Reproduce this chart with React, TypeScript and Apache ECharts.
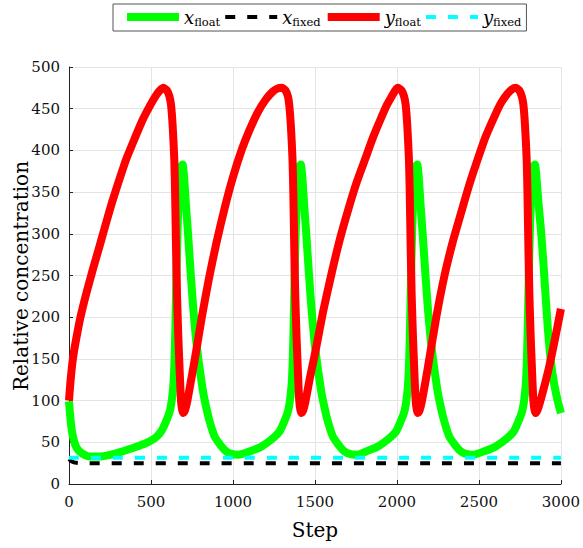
import React, { useEffect, useRef } from "react";
import * as echarts from "echarts";

const seriesNames = ["x_float", "x_fixed", "y_float", "y_fixed"];
const legendLabels: Record<string, string> = {
  x_float: "{v|x}{s|float}",
  x_fixed: "{v|x}{s|fixed}",
  y_float: "{v|y}{s|float}",
  y_fixed: "{v|y}{s|fixed}",
};

const xTicks = [0, 500, 1000, 1500, 2000, 2500, 3000];
const yTicks = [0, 50, 100, 150, 200, 250, 300, 350, 400, 450, 500];

// x_float: [step, relative concentration]
const xFloat: number[][] = [
  [0, 99], [8, 80], [18, 63], [30, 52], [45, 44], [65, 39], [95, 35], [126, 33], [186, 33], [250, 35],
  [308, 38], [370, 42], [429, 46], [480, 50], [531, 56], [565, 64], [596, 77], [618, 90], [635, 115],
  [643, 145], [649, 190], [655, 250], [662, 305], [669, 345], [678, 372], [687, 382], [693, 383],
  [703, 365], [713, 335], [726, 300], [743, 250], [758, 210], [774, 175], [790, 148], [814, 115],
  [828, 100], [855, 77], [888, 57], [915, 49], [948, 41], [978, 37], [1033, 35], [1114, 40], [1174, 45],
  [1238, 54], [1284, 63], [1317, 77], [1339, 90], [1356, 115], [1364, 145], [1370, 190], [1376, 250],
  [1383, 305], [1390, 345], [1399, 372], [1408, 382], [1414, 383],
  [1424, 365], [1434, 335], [1447, 300], [1464, 250], [1479, 210], [1495, 175], [1511, 148], [1535, 115],
  [1549, 100], [1576, 77], [1609, 57], [1636, 49], [1669, 41], [1699, 37], [1754, 35], [1824, 40],
  [1884, 45], [1948, 54], [1994, 63], [2027, 77], [2049, 90], [2066, 115], [2074, 145], [2080, 190],
  [2086, 250], [2093, 305], [2100, 345], [2109, 372], [2118, 382], [2124, 383],
  [2134, 365], [2144, 335], [2157, 300], [2174, 250], [2189, 210], [2205, 175], [2221, 148], [2245, 115],
  [2259, 100], [2286, 77], [2319, 57], [2346, 49], [2379, 41], [2409, 37], [2464, 35], [2542, 40],
  [2602, 45], [2666, 54], [2712, 63], [2745, 77], [2767, 90], [2784, 115], [2792, 145], [2798, 190],
  [2804, 250], [2811, 305], [2818, 345], [2827, 372], [2836, 382], [2842, 383],
  [2852, 365], [2862, 340], [2878, 305], [2895, 260], [2917, 195], [2937, 150], [2957, 122], [2980, 100],
  [3000, 85],
];

// x_fixed
const xFixed: number[][] = [
  [0, 30], [8, 28.5], [18, 27], [30, 26], [45, 25.4], [65, 25.1], [100, 25], [3000, 25],
];

// y_float
const yFloat: number[][] = [
  [0, 100], [10, 125], [25, 152], [45, 175], [70, 200], [105, 228], [145, 257], [186, 285], [226, 313],
  [266, 340], [307, 365], [348, 389], [400, 414], [450, 437], [495, 454], [531, 466], [555, 472],
  [576, 475], [597, 472], [612, 465], [622, 455], [632, 430], [642, 390], [647, 350], [653, 280],
  [659, 225], [667, 175], [675, 135], [683, 100], [690, 89], [697, 85],
  [707, 88], [722, 100], [745, 125], [772, 155], [810, 200], [852, 245], [900, 290], [952, 333],
  [1000, 368], [1052, 400], [1100, 424], [1152, 446], [1200, 461], [1240, 470], [1270, 474], [1299, 475],
  [1320, 472], [1335, 465], [1343, 455], [1353, 430], [1363, 390], [1368, 350], [1374, 280], [1380, 225],
  [1388, 175], [1396, 135], [1404, 100], [1411, 89], [1418, 85],
  [1428, 88], [1443, 100], [1470, 128], [1501, 157], [1550, 207], [1602, 253], [1650, 292], [1703, 329],
  [1755, 362], [1805, 389], [1855, 416], [1906, 440], [1940, 455], [1966, 464], [1990, 472], [2007, 475],
  [2028, 472], [2043, 465], [2053, 455], [2063, 430], [2073, 390], [2078, 350], [2084, 280], [2090, 225],
  [2098, 175], [2106, 135], [2114, 100], [2121, 89], [2128, 85],
  [2138, 88], [2153, 100], [2189, 140], [2240, 200], [2290, 250], [2340, 290], [2391, 325], [2440, 358],
  [2492, 389], [2540, 416], [2593, 440], [2635, 457], [2674, 468], [2700, 473], [2725, 475],
  [2746, 472], [2761, 465], [2771, 455], [2781, 430], [2791, 390], [2796, 350], [2802, 280], [2808, 225],
  [2816, 175], [2824, 135], [2832, 100], [2839, 89], [2846, 85],
  [2856, 88], [2871, 97], [2900, 118], [2930, 142], [2965, 175], [3000, 210],
];

// y_fixed
const yFixed: number[][] = [
  [0, 31.5], [3000, 31.5],
];

const SERIF = "DejaVu Serif";
const GREEN = "#00ff00";
const RED = "#ff0000";
const BLACK = "#000000";
const CYAN = "#00ffff";
const DASH = [10, 12];

export default function App() {
  const ref = useRef<HTMLDivElement>(null);

  useEffect(() => {
    if (!ref.current) return;
    const chart = echarts.init(ref.current, undefined, { renderer: "svg" });

    const solid = (color: string) => ({ color, width: 8, type: "solid" as const, cap: "butt" as const, join: "round" as const });
    const dashed = (color: string) => ({ color, width: 4, type: DASH, cap: "butt" as const });

    const lineStyles = [solid(GREEN), dashed(BLACK), solid(RED), dashed(CYAN)];
    const datasets = [xFloat, xFixed, yFloat, yFixed];
    const colors = [GREEN, BLACK, RED, CYAN];

    chart.setOption({
      animation: false,
      backgroundColor: "#ffffff",
      grid: { left: 69, top: 67, right: 19, bottom: 64, containLabel: false },
      legend: {
        left: 113,
        top: 4,
        orient: "horizontal",
        padding: [4, 5, 3, 10],
        itemGap: 3,
        itemWidth: 52,
        itemHeight: 14,
        borderColor: "#555555",
        borderWidth: 1,
        backgroundColor: "#ffffff",
        data: seriesNames.map((n, i) => ({
          name: n,
          lineStyle: lineStyles[i],
          itemStyle: { color: colors[i], opacity: 0, borderWidth: 0 },
        })),
        formatter: (name: string) => legendLabels[name],
        textStyle: {
          color: "#000",
          rich: {
            v: { fontFamily: SERIF, fontStyle: "italic", fontSize: 18, lineHeight: 22, color: "#000" },
            s: { fontFamily: SERIF, fontSize: 11.5, lineHeight: 12, verticalAlign: "bottom", color: "#000" },
          },
        },
      },
      xAxis: {
        type: "value",
        min: xTicks[0],
        max: xTicks[xTicks.length - 1],
        interval: 500,
        name: "Step",
        nameLocation: "middle",
        nameGap: 36,
        nameTextStyle: { fontFamily: SERIF, fontSize: 20, color: "#000" },
        axisLine: { show: true, lineStyle: { color: "#222", width: 1 } },
        axisTick: { show: true, inside: true, length: 4, lineStyle: { color: "#222" } },
        axisLabel: { fontFamily: SERIF, fontSize: 15, color: "#111", margin: 10, formatter: (v: number) => String(v) },
        splitLine: { show: true, lineStyle: { color: "#e4e4e4", width: 1 } },
      },
      yAxis: {
        type: "value",
        min: yTicks[0],
        max: yTicks[yTicks.length - 1],
        interval: 50,
        axisLine: { show: true, lineStyle: { color: "#222", width: 1 } },
        axisTick: { show: true, inside: true, length: 4, lineStyle: { color: "#222" } },
        axisLabel: { fontFamily: SERIF, fontSize: 15, color: "#111", margin: 9, formatter: (v: number) => String(v) },
        splitLine: { show: true, lineStyle: { color: "#e4e4e4", width: 1 } },
      },
      graphic: [
        {
          type: "text",
          x: 21,
          y: 276,
          rotation: Math.PI / 2,
          style: {
            text: "Relative concentration",
            fontFamily: SERIF,
            fontSize: 20,
            fill: "#000",
            textAlign: "center",
            textVerticalAlign: "middle",
          },
        },
      ],
      series: seriesNames.map((n, i) => ({
        name: n,
        type: "line",
        data: datasets[i],
        symbol: "none",
        showSymbol: false,
        smooth: 0.2,
        lineStyle: lineStyles[i],
        itemStyle: { color: colors[i] },
        emphasis: { disabled: true },
        z: 2 + i,
      })),
    });

    return () => chart.dispose();
  }, []);

  return (
    <div
      ref={ref}
      style={{ position: "absolute", left: 0, top: 0, width: 583, height: 548, background: "#fff" }}
    />
  );
}
